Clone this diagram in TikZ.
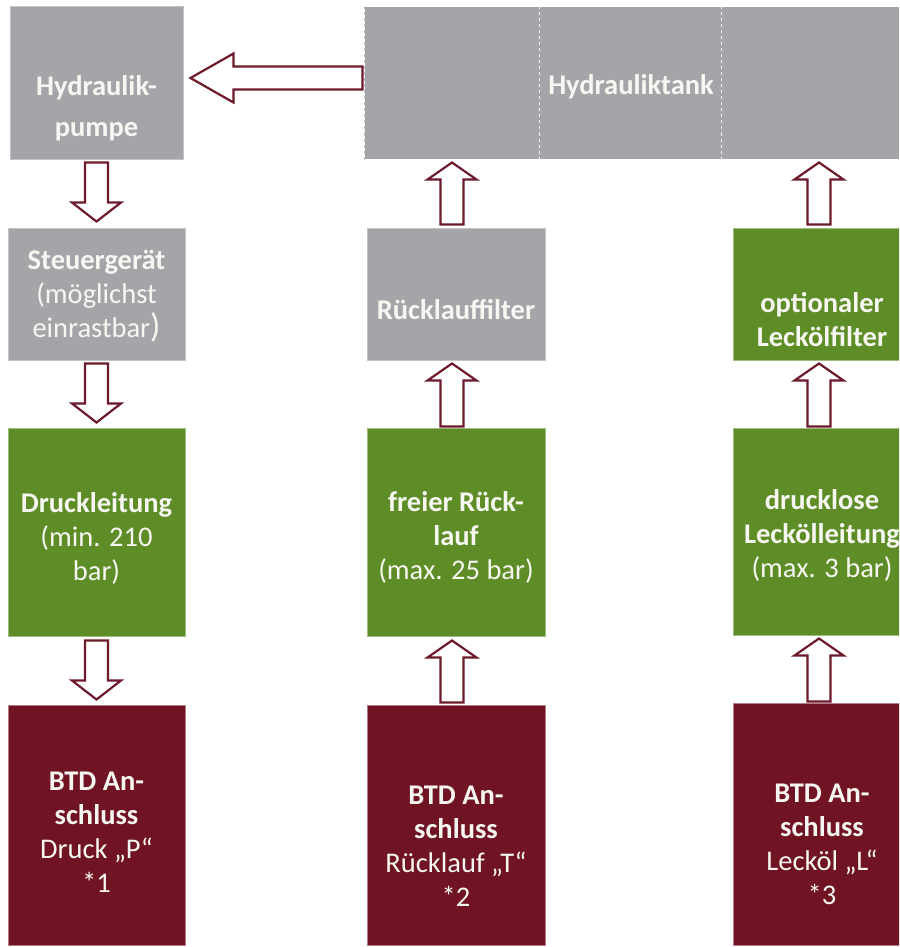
\documentclass[tikz,border=0pt]{standalone}
\usepackage{fontspec}
\setmainfont{Carlito}
\usetikzlibrary{calc}
\definecolor{boxgray}{HTML}{A5A5A9}
\definecolor{boxgrayline}{HTML}{C4C4C7}
\definecolor{boxgreen}{HTML}{5E8D27}
\definecolor{boxgreenline}{HTML}{9DBB7E}
\definecolor{boxred}{HTML}{701424}
\definecolor{boxredline}{HTML}{B07C86}
\definecolor{arrowred}{HTML}{6D1A2B}
\definecolor{txt}{HTML}{F7F7F2}
\newcommand\blockarrow[3]{%
  \coordinate (ba-s) at (#1);
  \coordinate (ba-t) at (#2);
  \coordinate (ba-h) at ($(ba-t)!#3!(ba-s)$);
  \draw[flow] ($(ba-s)!11.5pt!90:(ba-t)$) -- ($(ba-h)!11.5pt!90:(ba-t)$) -- ($(ba-h)!24.5pt!90:(ba-t)$) -- (ba-t) -- ($(ba-h)!24.5pt!-90:(ba-t)$) -- ($(ba-h)!11.5pt!-90:(ba-t)$) -- ($(ba-s)!11.5pt!-90:(ba-t)$) -- cycle;}
\begin{document}
\begin{tikzpicture}[x=1pt,y=-1pt,
  box/.style={rectangle,inner sep=0pt,line width=1pt},
  graybox/.style={box,fill=boxgray,draw=boxgrayline},
  greenbox/.style={box,fill=boxgreen,draw=boxgreenline},
  redbox/.style={box,fill=boxred,draw=boxredline},
  lbl/.style={text=txt,align=center,inner sep=0pt,font=\fontsize{28.5}{34}\selectfont},
  flow/.style={draw=arrowred,fill=white,line width=2.2pt,line join=miter}]
\useasboundingbox (0,0) rectangle (899,947);
\clip (0,0) rectangle (899,947);
\fill[white] (0,0) rectangle (899,947);
% boxes
\node[graybox,minimum width=173,minimum height=152] (pump) at (96.5,83) {};
\node[graybox,draw=none,minimum width=545,minimum height=152] (tank) at (637.5,83) {};
\draw[boxgrayline,line width=1pt,dashed] (tank.north west) -- (tank.south west);
\draw[white!85!boxgray,line width=0.8pt,dashed] ($(tank.north west)+(175,0)$) -- ($(tank.south west)+(175,0)$);
\draw[white!85!boxgray,line width=0.8pt,dashed] ($(tank.north west)+(357,0)$) -- ($(tank.south west)+(357,0)$);
\node[graybox,minimum width=177,minimum height=132] (steuer) at (96.5,294) {};
\node[greenbox,minimum width=177,minimum height=208] (druck) at (96.5,532) {};
\node[redbox,minimum width=177,minimum height=240] (btdp) at (96.5,825) {};
\node[graybox,minimum width=178,minimum height=132] (filter) at (456,294) {};
\node[greenbox,minimum width=178,minimum height=208] (frei) at (456,532) {};
\node[redbox,minimum width=178,minimum height=240] (btdt) at (456,825) {};
\node[greenbox,minimum width=178,minimum height=132] (lfilter) at (822,294) {};
\node[greenbox,minimum width=178,minimum height=207] (leitung) at (822,531.5) {};
\node[redbox,minimum width=178,minimum height=242] (btdl) at (822,824) {};
% texts
\node[lbl] (pumpT) at (96.5,108) {\bfseries Hydraulik-\\[7pt]\bfseries pumpe};
\node[lbl] (tankT) at (631,87) {\bfseries Hydrauliktank};
\node[lbl] (steuerT) at (96.5,296) {\bfseries Steuergerät\\(möglichst\\einrastbar{\fontsize{34}{34}\selectfont)}};
\node[lbl] (filterT) at (456,310) {\bfseries Rücklauffilter};
\node[lbl] (lfilterT) at (822,320) {\bfseries optionaler\\\bfseries Leckölfilter};
\node[lbl] (druckT) at (96.5,538) {\bfseries Druckleitung\\(min. 210\\bar)};
\node[lbl] (freiT) at (456,537) {\bfseries freier Rück-\\\bfseries lauf\\(max. 25 bar)};
\node[lbl] (leitungT) at (822,535) {\bfseries drucklose\\\bfseries Leckölleitung\\(max. 3 bar)};
\node[lbl] (btdpT) at (96.5,832) {\bfseries BTD An-\\\bfseries schluss\\Druck „P“\\*1};
\node[lbl] (btdtT) at (456,846) {\bfseries BTD An-\\\bfseries schluss\\Rücklauf „T“\\*2};
\node[lbl] (btdlT) at (822,844) {\bfseries BTD An-\\\bfseries schluss\\Lecköl „L“\\*3};
% arrows
\blockarrow{$(tank.west)+(-2,-5)$}{$(pump.east)+(7,-5)$}{43pt}
\blockarrow{$(pump.south)+(0,3)$}{$(steuer.north)+(0,-6)$}{19pt}
\blockarrow{$(steuer.south)+(0,3)$}{$(druck.north)+(0,-5)$}{19pt}
\blockarrow{$(druck.south)+(0,4)$}{$(btdp.north)+(0,-5)$}{19pt}
\blockarrow{$(filter.north)+(-4,-3)$}{$(tank.south)!(filter.north)!(tank.south west)+(-4,3)$}{17pt}
\blockarrow{$(frei.north)+(-4,-1)$}{$(filter.south)+(-4,3)$}{17pt}
\blockarrow{$(btdt.north)+(-4,-2)$}{$(frei.south)+(-4,4)$}{17pt}
\blockarrow{$(lfilter.north)+(-3,-3)$}{$(tank.south)!(lfilter.north)!(tank.south east)+(-3,3)$}{17pt}
\blockarrow{$(leitung.north)+(-3,-1)$}{$(lfilter.south)+(-3,3)$}{17pt}
\blockarrow{$(btdl.north)+(-3,-1)$}{$(leitung.south)+(-3,3)$}{17pt}
\end{tikzpicture}
\end{document}
